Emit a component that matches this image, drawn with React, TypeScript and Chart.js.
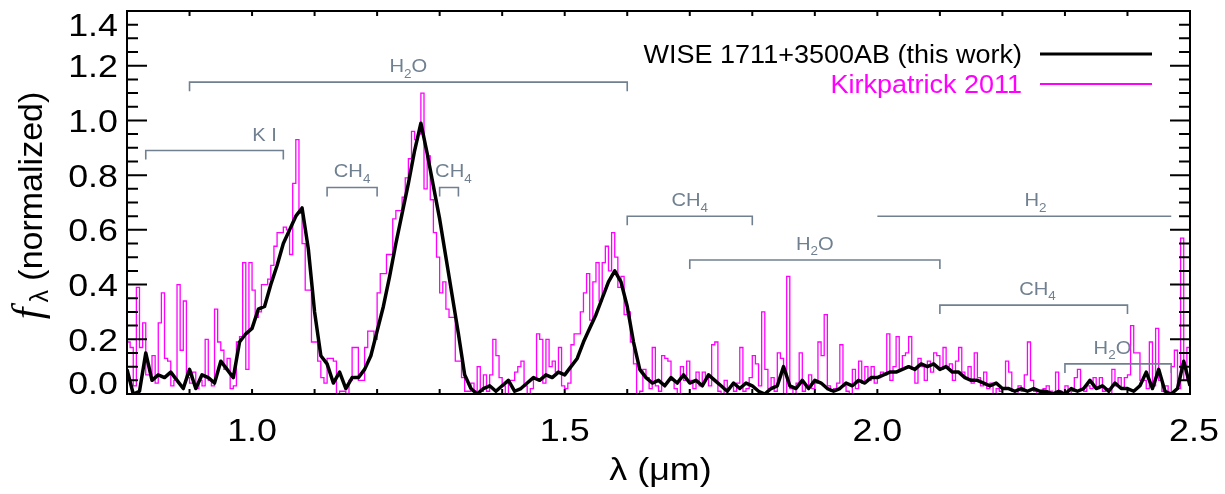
import React, { useEffect, useRef } from 'react';
import { Chart, registerables } from 'chart.js';

Chart.register(...registerables);

// ---------- data ----------
// WISE 1711+3500AB spectrum, sampled every 0.01 µm from 0.80 µm
const WISE_START = 0.8;
const WISE_STEP = 0.01;
const wiseFlux = [
  0.09, 0.00, 0.01, 0.15, 0.05, 0.07, 0.06, 0.08, 0.05, 0.02,
  0.09, 0.02, 0.07, 0.06, 0.04, 0.12, 0.09, 0.06, 0.19, 0.22,
  0.24, 0.31, 0.32, 0.40, 0.47, 0.55, 0.60, 0.65, 0.68, 0.53,
  0.30, 0.14, 0.11, 0.04, 0.08, 0.02, 0.06, 0.06, 0.09, 0.14,
  0.23, 0.32, 0.43, 0.55, 0.66, 0.77, 0.89, 0.99, 0.88, 0.76,
  0.64, 0.50, 0.36, 0.22, 0.07, 0.02, 0.00, 0.02, 0.03, 0.01,
  0.03, 0.05, 0.01, 0.02, 0.04, 0.06, 0.05, 0.07, 0.06, 0.08,
  0.07, 0.10, 0.13, 0.19, 0.24, 0.29, 0.35, 0.41, 0.45, 0.41,
  0.32, 0.19, 0.09, 0.06, 0.04, 0.05, 0.03, 0.06, 0.04, 0.07,
  0.04, 0.05, 0.03, 0.07, 0.05, 0.03, 0.01, 0.04, 0.02, 0.04,
  0.03, 0.01, 0.00, 0.02, 0.03, 0.10, 0.03, 0.02, 0.05, 0.02,
  0.05, 0.04, 0.02, 0.01, 0.02, 0.04, 0.03, 0.05, 0.04, 0.06,
  0.06, 0.07, 0.08, 0.08, 0.09, 0.10, 0.09, 0.11, 0.10, 0.11,
  0.09, 0.10, 0.08, 0.08, 0.06, 0.05, 0.05, 0.04, 0.03, 0.04,
  0.02, 0.02, 0.01, 0.02, 0.01, 0.02, 0.01, 0.01, 0.00, 0.01,
  0.00, 0.02, 0.01, 0.02, 0.05, 0.02, 0.03, 0.01, 0.04, 0.02,
  0.02, 0.01, 0.03, 0.08, 0.02, 0.09, 0.01, 0.00, 0.02, 0.12,
  0.03,
];

// Kirkpatrick 2011 spectrum, bins of 0.005 µm starting at 0.80 µm
const KIRK_START = 0.8;
const KIRK_STEP = 0.005;
const kirkFlux = [
  0.19, 0.17, 0.03, 0.39, 0.17, 0.26, 0.07, 0.07, 0.14, 0.04, 0.26, 0.37, 0.13, 0.12, 0.03, 0.05, 0.40, 0.16, 0.34, 0.06,
  0.04, 0.08, 0.02, 0.05, 0.03, 0.20, 0.05, 0.03, 0.31, 0.19, 0.16, 0.09, 0.13, 0.02, 0.03, 0.19, 0.21, 0.48, 0.09, 0.48,
  0.38, 0.28, 0.30, 0.40, 0.40, 0.42, 0.47, 0.54, 0.59, 0.59, 0.61, 0.60, 0.51, 0.77, 0.93, 0.66, 0.55, 0.38, 0.38, 0.19,
  0.19, 0.12, 0.06, 0.04, 0.13, 0.13, 0.12, 0.00, 0.01, 0.01, 0.00, 0.05, 0.17, 0.17, 0.05, 0.05, 0.17, 0.23, 0.23, 0.20,
  0.37, 0.44, 0.44, 0.51, 0.51, 0.64, 0.67, 0.67, 0.72, 0.79, 0.86, 0.96, 0.93, 0.95, 1.10, 0.75, 0.87, 0.71, 0.59, 0.50,
  0.37, 0.41, 0.31, 0.28, 0.28, 0.12, 0.12, 0.06, 0.01, 0.01, 0.04, 0.01, 0.10, 0.01, 0.07, 0.01, 0.07, 0.20, 0.14, 0.06,
  0.03, 0.00, 0.05, 0.05, 0.08, 0.10, 0.12, 0.03, 0.00, 0.02, 0.06, 0.22, 0.20, 0.04, 0.20, 0.10, 0.12, 0.08, 0.17, 0.03,
  0.02, 0.04, 0.18, 0.22, 0.22, 0.30, 0.37, 0.44, 0.27, 0.41, 0.48, 0.34, 0.48, 0.54, 0.45, 0.59, 0.50, 0.39, 0.43, 0.29,
  0.30, 0.19, 0.11, 0.00, 0.01, 0.09, 0.06, 0.02, 0.17, 0.03, 0.01, 0.14, 0.13, 0.12, 0.05, 0.02, 0.00, 0.10, 0.05, 0.12,
  0.05, 0.02, 0.08, 0.03, 0.08, 0.06, 0.03, 0.18, 0.19, 0.01, 0.00, 0.05, 0.02, 0.03, 0.01, 0.04, 0.17, 0.01, 0.02, 0.06,
  0.14, 0.11, 0.03, 0.30, 0.09, 0.02, 0.06, 0.01, 0.15, 0.13, 0.00, 0.43, 0.02, 0.00, 0.04, 0.15, 0.01, 0.03, 0.07, 0.02,
  0.04, 0.19, 0.14, 0.29, 0.03, 0.01, 0.02, 0.04, 0.18, 0.03, 0.01, 0.00, 0.09, 0.02, 0.12, 0.04, 0.10, 0.05, 0.10, 0.04,
  0.06, 0.08, 0.07, 0.22, 0.05, 0.10, 0.21, 0.09, 0.14, 0.15, 0.21, 0.09, 0.04, 0.13, 0.10, 0.05, 0.12, 0.08, 0.15, 0.14,
  0.09, 0.17, 0.10, 0.11, 0.05, 0.12, 0.17, 0.08, 0.06, 0.10, 0.04, 0.15, 0.06, 0.03, 0.08, 0.02, 0.04, 0.00, 0.02, 0.01,
  0.02, 0.12, 0.08, 0.01, 0.00, 0.03, 0.01, 0.07, 0.19, 0.05, 0.01, 0.00, 0.01, 0.02, 0.03, 0.01, 0.00, 0.08, 0.01, 0.00,
  0.03, 0.00, 0.01, 0.06, 0.09, 0.02, 0.01, 0.03, 0.02, 0.06, 0.02, 0.06, 0.01, 0.02, 0.00, 0.09, 0.03, 0.06, 0.02, 0.06,
  0.07, 0.25, 0.15, 0.15, 0.05, 0.05, 0.02, 0.19, 0.03, 0.24, 0.05, 0.01, 0.03, 0.00, 0.10, 0.16, 0.02, 0.57, 0.05, 0.17,
  0.17,
];

const seriesNames = ['WISE 1711+3500AB (this work)', 'Kirkpatrick 2011'];
const seriesColors = ['#000000', '#ff00ff'];

const X_MIN = 0.8;
const X_MAX = 2.5;
const Y_MIN = 0;
const Y_MAX = 1.4;
const X_TICKS = [1.0, 1.5, 2.0, 2.5];
const X_TICK_LABELS = ['1.0', '1.5', '2.0', '2.5'];
const Y_TICKS = [0, 0.2, 0.4, 0.6, 0.8, 1.0, 1.2, 1.4];
const Y_TICK_LABELS = ['0.0', '0.2', '0.4', '0.6', '0.8', '1.0', '1.2', '1.4'];
const X_TITLE = 'λ (μm)';
const Y_TITLE_VAR = 'f';
const Y_TITLE_SUB = 'λ';
const Y_TITLE_REST = ' (normalized)';

// absorption band annotations ("_" marks a subscript character)
const bandNames = ['H_2O', 'K I', 'CH_4', 'CH_4', 'CH_4', 'H_2', 'H_2O', 'CH_4', 'H_2O'];
const bandStart = [0.90, 0.83, 1.12, 1.30, 1.60, 2.00, 1.70, 2.10, 2.30];
const bandEnd = [1.60, 1.05, 1.20, 1.33, 1.80, 2.47, 2.10, 2.40, 2.47];
const bandLevel = [1.14, 0.89, 0.755, 0.755, 0.65, 0.65, 0.49, 0.325, 0.11];
const bandLabelAt = [1.25, 1.02, 1.16, 1.322, 1.70, 2.253, 1.90, 2.256, 2.376];
const bandHooks = [true, true, true, true, true, false, true, true, true];

// ---------- styling ----------
const SANS = '"Liberation Sans", Arial, Helvetica, sans-serif';
const SERIF = '"Liberation Serif", "Times New Roman", serif';
const BAND_COLOR = '#708090';
const STRETCH = 1.12; // text in the reference is slightly wide

function fillWide(ctx: CanvasRenderingContext2D, text: string, x: number, y: number, align: CanvasTextAlign, sx: number) {
  ctx.save();
  ctx.translate(x, y);
  ctx.scale(sx, 1);
  ctx.textAlign = align;
  ctx.textBaseline = 'alphabetic';
  ctx.fillText(text, 0, 0);
  ctx.restore();
}

function drawRich(ctx: CanvasRenderingContext2D, text: string, x: number, y: number, size: number, sx: number) {
  const parts: { t: string; sub: boolean; w: number }[] = [];
  for (let i = 0; i < text.length; i++) {
    if (text[i] === '_' && i + 1 < text.length) {
      parts.push({ t: text[i + 1], sub: true, w: 0 });
      i++;
    } else {
      parts.push({ t: text[i], sub: false, w: 0 });
    }
  }
  const subSize = Math.round(size * 0.68);
  let total = 0;
  parts.forEach((p) => {
    ctx.font = `${p.sub ? subSize : size}px ${SANS}`;
    p.w = ctx.measureText(p.t).width * sx;
    total += p.w;
  });
  let cx = x - total / 2;
  parts.forEach((p) => {
    ctx.font = `${p.sub ? subSize : size}px ${SANS}`;
    fillWide(ctx, p.t, cx, y + (p.sub ? size * 0.3 : 0), 'left', sx);
    cx += p.w;
  });
}

const bandsPlugin = {
  id: 'bands',
  afterDatasetsDraw(chart: any) {
    const { ctx, scales } = chart;
    const xs = scales.x;
    const ys = scales.y;
    ctx.save();
    ctx.strokeStyle = BAND_COLOR;
    ctx.fillStyle = BAND_COLOR;
    ctx.lineWidth = 1.6;
    bandNames.forEach((name, i) => {
      const x0 = xs.getPixelForValue(bandStart[i]);
      const x1 = xs.getPixelForValue(bandEnd[i]);
      const py = ys.getPixelForValue(bandLevel[i]);
      ctx.beginPath();
      if (bandHooks[i]) {
        ctx.moveTo(x0, py + 9);
        ctx.lineTo(x0, py);
        ctx.lineTo(x1, py);
        ctx.lineTo(x1, py + 9);
      } else {
        ctx.moveTo(x0, py);
        ctx.lineTo(x1, py);
      }
      ctx.stroke();
      drawRich(ctx, name, xs.getPixelForValue(bandLabelAt[i]), py - 10, 18, STRETCH);
    });
    ctx.restore();
  },
};

const framePlugin = {
  id: 'frame',
  afterDraw(chart: any) {
    const { ctx, chartArea: a, scales } = chart;
    const xs = scales.x;
    const ys = scales.y;
    ctx.save();
    ctx.strokeStyle = '#000';
    ctx.lineWidth = 2;
    ctx.strokeRect(a.left, a.top, a.right - a.left, a.bottom - a.top);

    // y ticks: minor every 0.05, major at labelled values, both sides, inward
    ctx.beginPath();
    for (let j = 1; j < 28; j++) {
      const v = Y_MIN + j * 0.05;
      const py = ys.getPixelForValue(v);
      const major = j % 4 === 0;
      const len = major ? 20 : 11;
      ctx.moveTo(a.left, py);
      ctx.lineTo(a.left + len, py);
      ctx.moveTo(a.right, py);
      ctx.lineTo(a.right - len, py);
    }
    // x ticks every 0.1, both sides, inward
    for (let j = 1; j < 17; j++) {
      const v = X_MIN + j * 0.1;
      const px = xs.getPixelForValue(v);
      ctx.moveTo(px, a.bottom);
      ctx.lineTo(px, a.bottom - 5);
      ctx.moveTo(px, a.top);
      ctx.lineTo(px, a.top + 5);
    }
    ctx.stroke();

    // tick labels
    const TICK_SIZE = 32;
    const cap = TICK_SIZE * 0.716;
    ctx.fillStyle = '#000';
    ctx.font = `${TICK_SIZE}px ${SANS}`;
    Y_TICKS.forEach((v, i) => {
      let cy = ys.getPixelForValue(v);
      cy = Math.max(a.top + cap / 2 + 2, Math.min(a.bottom - cap / 2, cy));
      fillWide(ctx, Y_TICK_LABELS[i], a.left - 9, cy + cap / 2, 'right', STRETCH);
    });
    X_TICKS.forEach((v, i) => {
      const px = xs.getPixelForValue(v);
      fillWide(ctx, X_TICK_LABELS[i], px + (i === X_TICKS.length - 1 ? 4 : 0), 430 + cap / 2, 'center', STRETCH);
    });

    // x title
    ctx.font = `32px ${SANS}`;
    fillWide(ctx, X_TITLE, (a.left + a.right) / 2 + 2, 480, 'center', STRETCH);

    // y title (rotated)
    ctx.save();
    ctx.translate(42, (a.top + a.bottom) / 2 + 3);
    ctx.rotate(-Math.PI / 2);
    ctx.textAlign = 'left';
    ctx.textBaseline = 'alphabetic';
    ctx.font = `italic 42px ${SERIF}`;
    const wf = ctx.measureText(Y_TITLE_VAR).width;
    ctx.font = `25px ${SANS}`;
    const wl = ctx.measureText(Y_TITLE_SUB).width;
    ctx.font = `34px ${SANS}`;
    const wn = ctx.measureText(Y_TITLE_REST).width;
    const gap = 5;
    const total = wf + gap + wl + wn;
    let cx = -total / 2;
    ctx.font = `italic 42px ${SERIF}`;
    ctx.fillText(Y_TITLE_VAR, cx, -1);
    cx += wf + gap;
    ctx.font = `25px ${SANS}`;
    ctx.fillText(Y_TITLE_SUB, cx, 6);
    cx += wl;
    ctx.font = `34px ${SANS}`;
    ctx.fillText(Y_TITLE_REST, cx, 0);
    ctx.restore();

    // legend (text right-aligned, line sample to the right)
    ctx.font = `25px ${SANS}`;
    seriesNames.forEach((name, i) => {
      const ly = a.top + 43 + i * 30;
      ctx.fillStyle = seriesColors[i];
      fillWide(ctx, name, a.right - 168, ly + 9, 'right', 1.08);
      ctx.strokeStyle = seriesColors[i];
      ctx.lineWidth = i === 0 ? 3 : 2;
      ctx.beginPath();
      ctx.moveTo(a.right - 150, ly);
      ctx.lineTo(a.right - 38, ly);
      ctx.stroke();
    });
    ctx.restore();
  },
};

export default function App() {
  const canvasRef = useRef<HTMLCanvasElement>(null);

  useEffect(() => {
    const canvas = canvasRef.current;
    if (!canvas) return;
    const wisePoints = wiseFlux.map((v, i) => ({ x: +(WISE_START + i * WISE_STEP).toFixed(4), y: v }));
    const kirkPoints = kirkFlux.map((v, i) => ({ x: +(KIRK_START + i * KIRK_STEP).toFixed(4), y: v }));

    const chart = new Chart(canvas, {
      type: 'line',
      data: {
        datasets: [
          {
            label: seriesNames[0],
            data: wisePoints,
            borderColor: seriesColors[0],
            borderWidth: 3.5,
            pointRadius: 0,
            tension: 0,
            fill: false,
            order: 0,
            borderJoinStyle: 'round',
          },
          {
            label: seriesNames[1],
            data: kirkPoints,
            borderColor: seriesColors[1],
            borderWidth: 1.3,
            pointRadius: 0,
            stepped: true,
            fill: false,
            order: 1,
          },
        ],
      },
      options: {
        animation: false,
        responsive: false,
        maintainAspectRatio: false,
        layout: { padding: { left: 127, right: 35, top: 11, bottom: 100 } },
        plugins: {
          legend: { display: false },
          tooltip: { enabled: false },
        },
        scales: {
          x: { type: 'linear', min: X_MIN, max: X_MAX, display: false },
          y: { type: 'linear', min: Y_MIN, max: Y_MAX, display: false },
        },
      },
      plugins: [bandsPlugin, framePlugin],
    } as any);

    return () => chart.destroy();
  }, []);

  return (
    <div style={{ position: 'absolute', left: 0, top: 0, width: 1225, height: 494, background: '#fff' }}>
      <canvas ref={canvasRef} width={1225} height={494} style={{ display: 'block', width: 1225, height: 494 }} />
    </div>
  );
}
